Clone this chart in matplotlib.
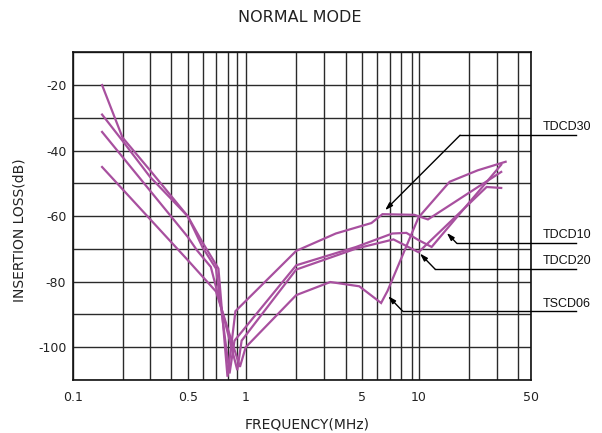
import numpy as np
import matplotlib
matplotlib.use("Agg")
import matplotlib.pyplot as plt

plt.rcParams['font.family'] = ['DejaVu Sans']

# ---------------- data (MHz, dB) ----------------
TDCD30_F = [0.15, 0.2, 0.3, 0.5, 0.6, 0.72, 0.8, 0.88, 2, 3.5, 5.6, 6.4, 9.4, 11.4, 32]
TDCD30_DB = [-20, -36, -46, -60, -68, -76, -109, -89, -70.6, -65.3, -62.1, -59.4, -59.6, -61, -46.5]

TDCD10_F = [0.15, 0.2, 0.3, 0.5, 0.6, 0.7, 0.82, 0.87, 2, 4.6, 7.2, 8.5, 10, 12, 32]
TDCD10_DB = [-29, -37, -48, -60, -69.5, -76, -108, -98, -75, -69.4, -65.3, -65.1, -67.3, -69.4, -44.3]

TDCD20_F = [0.15, 0.5, 0.56, 0.66, 0.9, 0.95, 2, 4.6, 7.3, 10, 26, 32]
TDCD20_DB = [-34.3, -66.3, -70.4, -75.5, -107, -98, -76.3, -69.9, -67.1, -71, -51.1, -51.4]

TSCD06_F = [0.15, 0.5, 0.7, 0.93, 1.0, 2, 3.25, 4.8, 6.3, 6.8, 10, 15.4, 22.9, 34]
TSCD06_DB = [-45, -73.4, -83, -106, -100, -84.1, -80.1, -81.4, -86.5, -82.8, -60.4, -49.5, -46, -43.4]

SERIES = [TDCD30_F, TDCD10_F, TDCD20_F, TSCD06_F]
SERIES_DB = [TDCD30_DB, TDCD10_DB, TDCD20_DB, TSCD06_DB]

LABELS = ["TDCD30", "TDCD10", "TDCD20", "TSCD06"]
# arrow tip (on curve), elbow point, text y (dB)
LABEL_TIP = [(6.6, -58.2), (14.8, -65.1), (10.2, -71.4), (6.85, -84.4)]
LABEL_ELBOW = [(17.8, -35.3), (17.0, -68.3), (12.6, -76.2), (8.15, -89.0)]
LABEL_TEXT_Y = [-32.8, -65.8, -73.6, -86.9]

X_TICKS = [0.1, 0.5, 1, 5, 10, 50]
Y_TICKS = [-20, -40, -60, -80, -100]

# ---------------- chart's (slightly non-log) frequency grid ----------------
GRID_F = [0.01, 0.1, 0.2, 0.3, 0.4, 0.5, 0.6, 0.7, 0.8, 0.9, 1, 2, 3, 4, 5, 6, 7, 8, 9,
          10, 20, 30, 40, 50, 1000]
GRID_POS = [-99.1, 73.3, 122.5, 150, 171, 187.7, 202.5, 216, 227.5, 237.3, 245.7, 296.2,
            324.3, 345.7, 362.3, 377, 390, 401, 411.5, 418.5, 468.5, 496.5, 517.5,
            530.7, 755.1]
LOGK = np.log10(GRID_F)
POS = np.array(GRID_POS)


def fwd(x):
    x = np.asarray(x, dtype=float)
    lx = np.log10(np.where(x > 0, x, 1e-6))
    return np.interp(lx, LOGK, POS)


def inv(u):
    u = np.asarray(u, dtype=float)
    return 10 ** np.interp(u, POS, LOGK)


COLOR = '#a8509f'
GRIDC = '#2a2a2a'

fig = plt.figure(figsize=(6.02, 4.33), dpi=100)
ax = fig.add_axes([73.3 / 602, 1 - 380 / 433, (530.7 - 73.3) / 602, (380 - 52.3) / 433])
ax.set_xscale('function', functions=(fwd, inv))
ax.set_xlim(0.1, 50)
ax.set_ylim(-110, -10)

grid_f = GRID_F[1:-1]
ax.set_xticks(grid_f)
ax.set_xticklabels([("%g" % f) if f in X_TICKS else "" for f in grid_f])
ax.xaxis.set_minor_locator(matplotlib.ticker.NullLocator())
ax.set_yticks(np.arange(-110, -9, 10))
ax.set_yticklabels([("%d" % v) if v in Y_TICKS else "" for v in np.arange(-110, -9, 10)])
ax.grid(True, color=GRIDC, lw=1.0)
ax.tick_params(length=0, labelsize=9, colors='#222222')
ax.tick_params(axis='x', pad=8)
ax.tick_params(axis='y', pad=5)
for s in ax.spines.values():
    s.set_color('#111111')
    s.set_linewidth(1.2)

for f, d in zip(SERIES, SERIES_DB):
    ax.plot(f, d, color=COLOR, lw=1.6, solid_joinstyle='miter', zorder=3)

for name, tip, elb, ty in zip(LABELS, LABEL_TIP, LABEL_ELBOW, LABEL_TEXT_Y):
    ax.annotate("", xy=tip, xytext=elb,
                arrowprops=dict(arrowstyle='-|>,head_length=0.45,head_width=0.14',
                                color='black', lw=1.0, shrinkA=0, shrinkB=0),
                annotation_clip=False, zorder=4)
    ax.plot([elb[0], 92], [elb[1], elb[1]], color='black', lw=1.0, clip_on=False, zorder=4)
    ax.text(59, ty, name, fontsize=9, family='Liberation Sans', va='center', ha='left',
            color='#111111', clip_on=False)

fig.text(300 / 602, 1 - 18 / 433, "NORMAL MODE", ha='center', va='center', fontsize=11.5,
         color='#222222')
fig.text(307 / 602, 1 - 424 / 433, "FREQUENCY(MHz)", ha='center', va='center', fontsize=10,
         color='#222222')
fig.text(20 / 602, 1 - 230 / 433, "INSERTION LOSS(dB)", ha='center', va='center',
         fontsize=10, rotation=90, color='#222222')

fig.savefig("out.png", dpi=100)
